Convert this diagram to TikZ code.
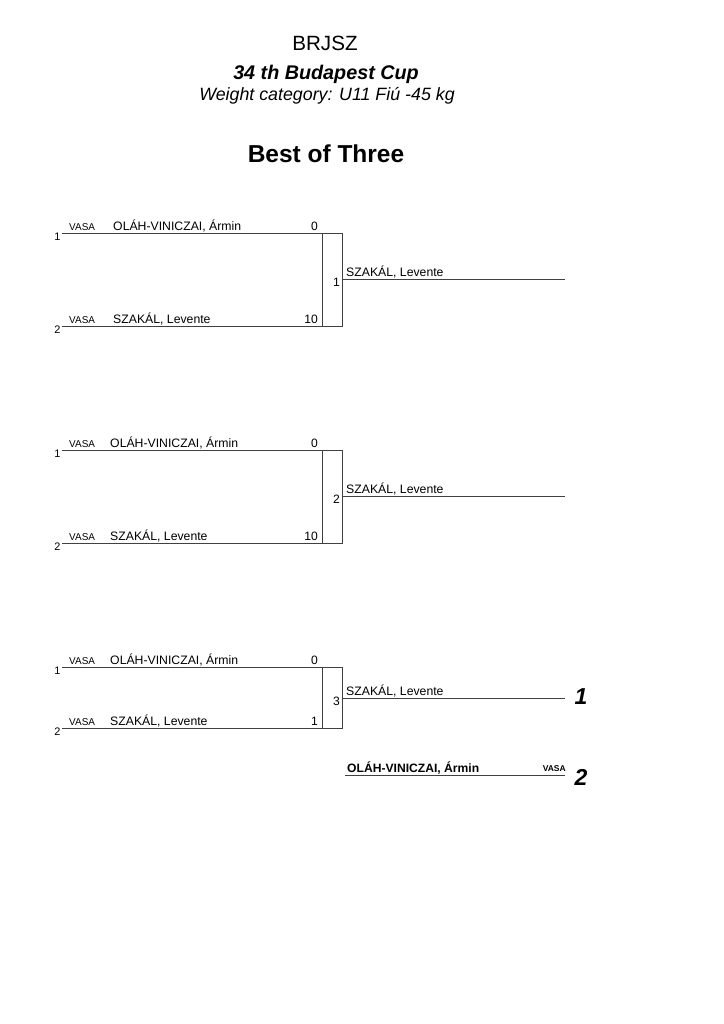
\documentclass[tikz,border=0pt]{standalone}
\usepackage{fontspec}
\setmainfont{Liberation Sans}
\usetikzlibrary{positioning}
\tikzset{
  bracket/.style={draw=black!75, line width=0.6pt},
  player/.style={anchor=base west, inner sep=0pt, font=\fontsize{10.1}{12}\selectfont},
  club/.style={anchor=base west, inner sep=0pt, font=\fontsize{8.2}{10}\selectfont},
  score/.style={anchor=base east, inner sep=0pt, font=\fontsize{10}{12}\selectfont},
  seed/.style={anchor=east, inner sep=1pt, font=\fontsize{9}{11}\selectfont},
  rank/.style={anchor=center, inner sep=0pt, font=\fontsize{19}{22}\bfseries\itshape\selectfont},
  heading/.style={anchor=base, inner sep=0pt}
}

\begin{document}
\begin{tikzpicture}[x=0.29mm, y=-0.29mm]
  \useasboundingbox (0,0) rectangle (724,1024);

  % \draw[help lines, step=50] (0,0) grid (724,1024);

  \node (org) [heading, font=\fontsize{17}{20}\selectfont] at (325,50) {BRJSZ};
  \node (cup) [heading, font=\fontsize{16.3}{19}\bfseries\itshape\selectfont] at (326,79) {34 th Budapest Cup};
  \node (cat) [heading, font=\fontsize{14.7}{17}\itshape\selectfont] at (327,100) {Weight category: U11 Fiú -45 kg};
  \node (mode) [heading, font=\fontsize{20.2}{23}\bfseries\selectfont] at (326,162) {Best of Three};

  % one bracket per bout
  \foreach \k/\ya/\yb/\yo/\sa/\sb/\xn in {1/233/326/279/0/10/113, 2/450/543/496/0/10/110, 3/667/728/698/0/1/110}{
    \coordinate (a\k) at (62,\ya);
    \coordinate (b\k) at (62,\yb);
    \coordinate (ma\k) at (322,\ya);
    \coordinate (mb\k) at (322,\yb);
    \coordinate (ea\k) at (342,\ya);
    \coordinate (eb\k) at (342,\yb);
    \coordinate (o\k) at (342,\yo);
    \coordinate (w\k) at (565,\yo);

    \draw [bracket] (a\k) -- (ea\k) -- (eb\k) -- (b\k);
    \draw [bracket] (ma\k) -- (mb\k);
    \draw [bracket] (o\k) -- (w\k);

    \node (na\k) [seed] at (62,\ya+4) {1};
    \node (nb\k) [seed] at (62,\yb+4) {2};
    \node (ca\k) [club] at (69,\ya-3) {VASA};
    \node (cb\k) [club] at (69,\yb-3) {VASA};
    \node (pa\k) [player] at (\xn,\ya-3) {OLÁH-VINICZAI, Ármin};
    \node (pb\k) [player] at (\xn,\yb-3) {SZAKÁL, Levente};
    \node (sa\k) [score] at (318,\ya-3) {\sa};
    \node (sb\k) [score] at (318,\yb-3) {\sb};

    \node (g\k) [score] at (340,\yo+7) {\k};
    \node (v\k) [player] at (346,\yo-3) {SZAKÁL, Levente};
  }

  % final placing
  \coordinate (l2) at (345,775);
  \coordinate (r2) at (565,775);
  \draw [bracket] (l2) -- (r2);

  \node (first) [rank] at (581,697) {1};
  \node (second) [rank] at (581,777) {2};
  \node (runner) [player, font=\fontsize{10}{12}\bfseries\selectfont] at (347,772) {OLÁH-VINICZAI, Ármin};
  \node (runclub) [anchor=base east, inner sep=0pt, font=\fontsize{7}{8}\bfseries\selectfont] at (566,771) {VASA};

\end{tikzpicture}
\end{document}
